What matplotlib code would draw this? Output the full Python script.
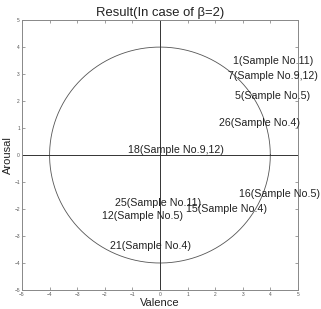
import numpy as np
import matplotlib
matplotlib.use("Agg")
import matplotlib.pyplot as plt

plt.rcParams['font.family'] = ['Liberation Sans', 'DejaVu Sans']

labels = ["1(Sample No.11)", "7(Sample No.9,12)", "5(Sample No.5)", "26(Sample No.4)",
          "18(Sample No.9,12)", "25(Sample No.11)", "12(Sample No.5)", "15(Sample No.4)",
          "16(Sample No.5)", "21(Sample No.4)"]
valence = [2.64, 2.46, 2.72, 2.14, -1.16, -1.63, -2.10, 0.94, 2.86, -1.81]
arousal = [3.48, 2.93, 2.19, 1.19, 0.19, -1.78, -2.26, -2.00, -1.44, -3.37]
radius = 4
ticks = list(range(-5, 6))

fig = plt.figure(figsize=(3.21, 3.09), dpi=100)
ax = fig.add_axes([0.0685, 0.0615, 0.8595, 0.8735])
ax.set_xlim(-5, 5)
ax.set_ylim(-5, 5)

t = np.linspace(0, 2 * np.pi, 400)
ax.plot(radius * np.cos(t), radius * np.sin(t), color='#555555', lw=0.6)
ax.axhline(0, color='#333333', lw=0.7)
ax.axvline(0, color='#333333', lw=0.7)

for lab, x, y in zip(labels, valence, arousal):
    ax.text(x, y, lab, fontsize=7.7, ha='left', va='center', color='#222222', clip_on=False)

ax.set_xticks(ticks)
ax.set_yticks(ticks)
ax.tick_params(direction='in', top=True, right=True, labelsize=3.5, length=2,
               width=0.5, colors='#777777', labelcolor='#555555', pad=1.5)
for s in ax.spines.values():
    s.set_color('#888888')
    s.set_linewidth(0.7)

ax.set_title("Result(In case of β=2)", fontsize=9.4, pad=3, color='#222222')
ax.set_xlabel("Valence", fontsize=8, labelpad=1, color='#222222')
ax.set_ylabel("Arousal", fontsize=8, labelpad=1, color='#222222')

fig.savefig("out.png", dpi=100)
